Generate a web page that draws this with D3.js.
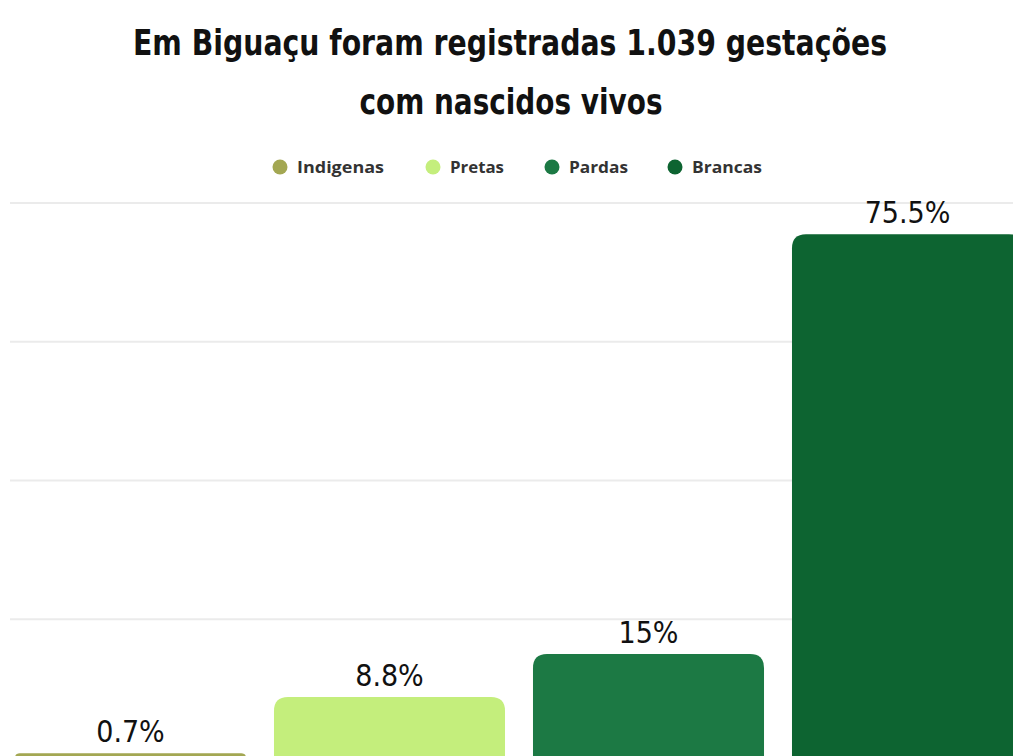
<!DOCTYPE html>
<html>
<head>
<meta charset="utf-8">
<script src="https://cdn.jsdelivr.net/npm/d3@7/dist/d3.min.js"></script>
<style>
  html, body { margin: 0; padding: 0; background: #ffffff; overflow: hidden; }
  svg { display: block; }
</style>
</head>
<body>
<svg id="chart" width="1013" height="756"></svg>
<script>
const titleLines = ["Em Biguaçu foram registradas 1.039 gestações", "com nascidos vivos"];
const categories = ["Indigenas", "Pretas", "Pardas", "Brancas"];
const values = [0.7, 8.8, 15, 75.5];
const valueLabels = ["0.7%", "8.8%", "15%", "75.5%"];
const colors = ["#a3a752", "#c4ee7c", "#1c7944", "#0d6431"];
const gridTicks = [0, 20, 40, 60, 80];

const svg = d3.select("#chart");
const W = 1013, H = 756;

svg.append("rect").attr("width", W).attr("height", H).attr("fill", "#ffffff");

// Title
const titleFont = "'Liberation Sans Narrow', 'DejaVu Sans Condensed', sans-serif";
svg.append("text")
  .attr("x", 510).attr("y", 55)
  .attr("text-anchor", "middle")
  .attr("font-family", titleFont)
  .attr("font-weight", "bold")
  .attr("font-size", 36)
  .attr("fill", "#111")
  .attr("textLength", 754).attr("lengthAdjust", "spacingAndGlyphs")
  .text(titleLines[0]);
svg.append("text")
  .attr("x", 511).attr("y", 114)
  .attr("text-anchor", "middle")
  .attr("font-family", titleFont)
  .attr("font-weight", "bold")
  .attr("font-size", 36)
  .attr("fill", "#111")
  .attr("textLength", 303).attr("lengthAdjust", "spacingAndGlyphs")
  .text(titleLines[1]);

// Legend
const legendX = [280, 433, 552, 675];
const legendW = [87, 54, 59, 70];
const legend = svg.append("g");
categories.forEach((c, i) => {
  legend.append("circle").attr("cx", legendX[i]).attr("cy", 167).attr("r", 7.5).attr("fill", colors[i]);
  legend.append("text")
    .attr("x", legendX[i] + 17).attr("y", 172.5)
    .attr("font-family", "'Open Sans', sans-serif")
    .attr("font-weight", "bold")
    .attr("font-size", 15.5)
    .attr("fill", "#333")
    .attr("textLength", legendW[i]).attr("lengthAdjust", "spacingAndGlyphs")
    .text(c);
});

// Scales
const x = d3.scaleBand().domain(categories).range([1, 1037]).paddingInner(0.108).paddingOuter(0.054);
const y = d3.scaleLinear().domain([0, 80]).range([758, 203]);

// Gridlines
svg.append("g").selectAll("line")
  .data(gridTicks.filter(t => t > 0))
  .join("line")
  .attr("x1", 10).attr("x2", W)
  .attr("y1", d => y(d)).attr("y2", d => y(d))
  .attr("stroke", "#ebebeb").attr("stroke-width", 2);

// Bars with rounded top corners
const r = 14;
function barPath(x0, y0, w, h) {
  const rr = Math.min(r, h, w / 2);
  return `M${x0},${y0 + h}V${y0 + rr}Q${x0},${y0} ${x0 + rr},${y0}H${x0 + w - rr}Q${x0 + w},${y0} ${x0 + w},${y0 + rr}V${y0 + h}Z`;
}
svg.append("g").selectAll("path")
  .data(values)
  .join("path")
  .attr("d", (d, i) => barPath(x(categories[i]), y(d), x.bandwidth(), y(0) - y(d)))
  .attr("fill", (d, i) => colors[i]);

// Value labels
svg.append("g").selectAll("text")
  .data(values)
  .join("text")
  .attr("x", (d, i) => x(categories[i]) + x.bandwidth() / 2)
  .attr("y", d => y(d) - 11)
  .attr("text-anchor", "middle")
  .attr("font-family", titleFont)
  .attr("font-size", 30)
  .attr("fill", "#111")
  .text((d, i) => valueLabels[i]);
</script>
</body>
</html>
